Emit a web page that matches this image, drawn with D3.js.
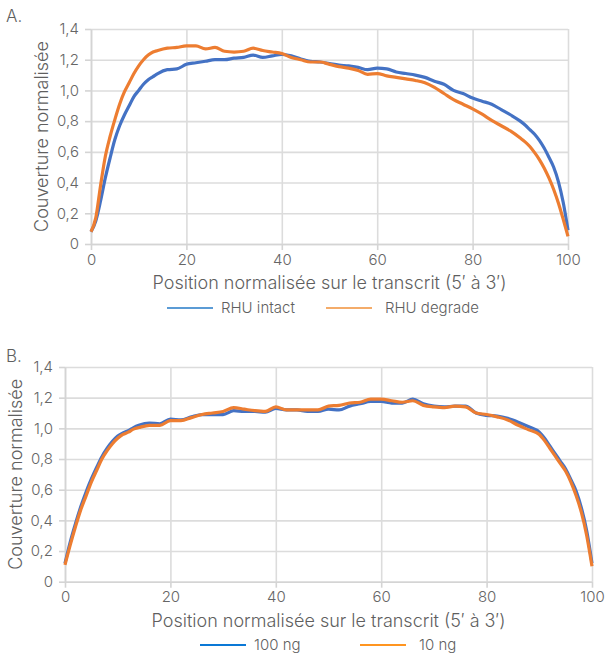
<!DOCTYPE html>
<meta charset="utf-8">
<style>

body {
  margin: 0;
  background: #fff;
}

text {
  font-family: Inter, "Noto Sans", sans-serif;
  font-weight: 300;
  fill: #5f5f5f;
}

.grid line {
  stroke: #dcdcdc;
  stroke-width: 1.6px;
}

.grid path {
  display: none;
}

.axis path, .axis line {
  stroke: #d4d4d4;
  stroke-width: 1.6px;
}

.axis text {
  font-size: 15px;
  fill: #666;
}

.curve {
  fill: none;
  stroke-width: 3.2px;
  stroke-linejoin: round;
}

</style>
<body>
<script src="https://d3js.org/d3.v7.min.js"></script>
<script>

// positions along the transcript (shared by both panels)
var positions = [0,1,2,3,4,5,6,7,8,9,10,11,12,13,14,16,18,20,22,24,26,28,30,32,34,36,38,40,
  42,44,46,48,50,52,54,56,58,60,62,64,66,68,70,72,74,76,78,80,82,84,86,88,90,91,92,93,94,95,96,97,98,99,100];

// panel A
var rhuIntact = [0.08,0.15,0.28,0.43,0.56,0.68,0.77,0.84,0.90,0.96,1.00,1.04,1.07,1.09,1.11,1.135,1.14,1.17,1.18,1.19,1.20,1.20,1.21,1.215,1.23,1.215,1.225,1.235,
  1.225,1.205,1.19,1.185,1.175,1.165,1.16,1.15,1.135,1.145,1.14,1.12,1.11,1.10,1.085,1.06,1.04,1.00,0.98,0.95,0.93,0.91,0.875,0.84,0.80,0.775,0.745,0.715,0.675,0.625,0.565,0.50,0.405,0.27,0.09];
var rhuDegrade = [0.08,0.17,0.38,0.57,0.70,0.81,0.91,0.99,1.05,1.11,1.16,1.20,1.23,1.25,1.26,1.275,1.28,1.29,1.29,1.27,1.28,1.255,1.25,1.255,1.275,1.26,1.25,1.24,
  1.215,1.20,1.185,1.185,1.17,1.155,1.145,1.13,1.105,1.11,1.095,1.085,1.075,1.065,1.05,1.02,0.98,0.94,0.91,0.88,0.845,0.805,0.77,0.735,0.69,0.665,0.635,0.595,0.55,0.495,0.43,0.355,0.265,0.16,0.05];

// panel B
var ng100 = [0.12,0.26,0.38,0.49,0.585,0.67,0.745,0.815,0.87,0.915,0.95,0.97,0.985,1.005,1.02,1.035,1.03,1.06,1.055,1.075,1.09,1.09,1.09,1.115,1.11,1.11,1.105,1.13,
  1.12,1.12,1.11,1.11,1.125,1.12,1.145,1.16,1.175,1.175,1.165,1.165,1.19,1.16,1.145,1.14,1.145,1.145,1.10,1.085,1.08,1.065,1.04,1.01,0.975,0.935,0.885,0.835,0.785,0.735,0.665,0.59,0.48,0.33,0.12];
var ng10 = [0.11,0.24,0.36,0.47,0.56,0.65,0.725,0.80,0.855,0.90,0.935,0.96,0.975,0.995,1.005,1.02,1.02,1.05,1.05,1.07,1.09,1.10,1.11,1.135,1.125,1.115,1.11,1.14,
  1.12,1.12,1.12,1.12,1.145,1.15,1.165,1.17,1.19,1.19,1.18,1.17,1.18,1.15,1.14,1.135,1.145,1.14,1.10,1.09,1.075,1.055,1.02,0.99,0.96,0.92,0.87,0.82,0.77,0.72,0.65,0.56,0.45,0.30,0.10];

var xTicks = [0, 20, 40, 60, 80, 100];
var yTicks = [0, 0.2, 0.4, 0.6, 0.8, 1.0, 1.2, 1.4];
var xTitle = "Position normalisée sur le transcrit (5\u2032 à 3\u2032)";
var yTitle = "Couverture normalisée";

var svg = d3.select("body").append("svg")
    .attr("width", 605)
    .attr("height", 657);

var panels = [
  {label: "A.", left: 91, right: 568, top: 29, bottom: 244, labelY: 22,
   series: [{name: "RHU intact", values: rhuIntact, color: "#4472c4", key: "#5b9bd5"},
            {name: "RHU degrade", values: rhuDegrade, color: "#ed7d31", key: "#f4ac6a"}],
   yTitleX: 48, legendY: 308, legendX: [167, 326]},
  {label: "B.", left: 65, right: 592, top: 367, bottom: 581.7, labelY: 362,
   series: [{name: "100 ng", values: ng100, color: "#4472c4", key: "#0a78d6"},
            {name: "10 ng", values: ng10, color: "#ed7d31", key: "#ff9520"}],
   yTitleX: 22, legendY: 645, legendX: [200, 360]}
];

panels.forEach(function(p) {

  var x = d3.scaleLinear().domain([0, 100]).range([p.left, p.right]);
  var y = d3.scaleLinear().domain([0, 1.4]).range([p.bottom, p.top]);

  var fmt = function(d) { return d === 0 ? "0" : d3.format(".1f")(d).replace(".", ","); };

  // grid
  svg.append("g")
      .attr("class", "grid")
      .attr("transform", "translate(0," + p.bottom + ")")
      .call(d3.axisBottom(x).tickValues(xTicks).tickSize(-(p.bottom - p.top)).tickFormat(""));

  svg.append("g")
      .attr("class", "grid")
      .attr("transform", "translate(" + p.left + ",0)")
      .call(d3.axisLeft(y).tickValues(yTicks).tickSize(-(p.right - p.left)).tickFormat(""));

  // axes
  svg.append("g")
      .attr("class", "axis")
      .attr("transform", "translate(0," + p.bottom + ")")
      .call(d3.axisBottom(x).tickValues(xTicks).tickSizeInner(6).tickSizeOuter(0).tickPadding(4));

  svg.append("g")
      .attr("class", "axis")
      .attr("transform", "translate(" + p.left + ",0)")
      .call(d3.axisLeft(y).tickValues(yTicks).tickFormat(fmt).tickSizeInner(6).tickSizeOuter(0).tickPadding(6));

  // curves
  var line = d3.line()
      .x(function(d, i) { return x(positions[i]); })
      .y(function(d) { return y(d); })
      .curve(d3.curveMonotoneX);

  p.series.forEach(function(s) {
    svg.append("path")
        .datum(s.values)
        .attr("class", "curve")
        .attr("stroke", s.color)
        .attr("d", line);
  });

  // labels
  svg.append("text")
      .attr("x", 6)
      .attr("y", p.labelY)
      .style("font-size", "17px")
      .text(p.label);

  svg.append("text")
      .attr("x", (p.left + p.right) / 2)
      .attr("y", p.bottom + 45)
      .attr("text-anchor", "middle")
      .style("font-size", "18px")
      .text(xTitle);

  svg.append("text")
      .attr("transform", "translate(" + p.yTitleX + "," + ((p.top + p.bottom) / 2) + ") rotate(-90)")
      .attr("text-anchor", "middle")
      .style("font-size", "18px")
      .text(yTitle);

  // legend
  p.series.forEach(function(s, i) {
    var lx = p.legendX[i];
    svg.append("line")
        .attr("x1", lx).attr("x2", lx + 46)
        .attr("y1", p.legendY).attr("y2", p.legendY)
        .attr("stroke", s.key)
        .attr("stroke-width", 2);
    svg.append("text")
        .attr("x", lx + 46 + (i === 0 ? 8 : 13))
        .attr("y", p.legendY + 5)
        .style("font-size", "15px")
        .text(s.name);
  });
});

</script>
</body>
